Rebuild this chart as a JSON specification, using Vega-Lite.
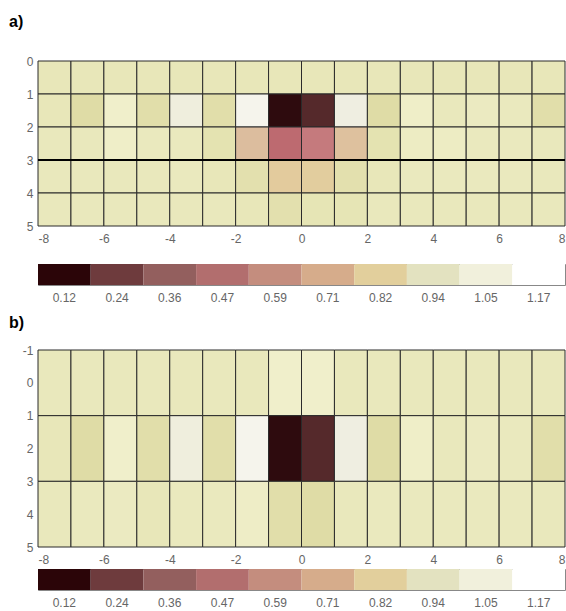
{
"$schema": "https://vega.github.io/schema/vega-lite/v6.json",
"background": "white",
"padding": {"left": 9, "top": 14, "right": 0, "bottom": 0},
"config": {
  "view": {"stroke": null},
  "axis": {"domain": false, "ticks": false, "grid": false, "labelColor": "#666666", "labelFont": "Liberation Sans", "labelFontSize": 12, "labelPadding": 6, "labelOverlap": false, "title": null},
  "title": {"font": "Liberation Sans", "fontSize": 16, "fontWeight": "bold", "color": "#000000", "anchor": "start", "frame": "group"}
},
"datasets": {
  "bar": [{"v":0.12},{"v":0.24},{"v":0.36},{"v":0.47},{"v":0.59},{"v":0.71},{"v":0.82},{"v":0.94},{"v":1.05},{"v":1.17}],
  "a": [
{"x0":-8,"x1":-7,"y0":0,"y1":1,"v":0.90},{"x0":-7,"x1":-6,"y0":0,"y1":1,"v":0.90},{"x0":-6,"x1":-5,"y0":0,"y1":1,"v":0.90},{"x0":-5,"x1":-4,"y0":0,"y1":1,"v":0.90},
{"x0":-4,"x1":-3,"y0":0,"y1":1,"v":0.90},{"x0":-3,"x1":-2,"y0":0,"y1":1,"v":0.90},{"x0":-2,"x1":-1,"y0":0,"y1":1,"v":0.90},{"x0":-1,"x1":0,"y0":0,"y1":1,"v":0.90},
{"x0":0,"x1":1,"y0":0,"y1":1,"v":0.90},{"x0":1,"x1":2,"y0":0,"y1":1,"v":0.90},{"x0":2,"x1":3,"y0":0,"y1":1,"v":0.90},{"x0":3,"x1":4,"y0":0,"y1":1,"v":0.90},
{"x0":4,"x1":5,"y0":0,"y1":1,"v":0.90},{"x0":5,"x1":6,"y0":0,"y1":1,"v":0.90},{"x0":6,"x1":7,"y0":0,"y1":1,"v":0.90},{"x0":7,"x1":8,"y0":0,"y1":1,"v":0.90},
{"x0":-8,"x1":-7,"y0":1,"y1":2,"v":0.90},{"x0":-7,"x1":-6,"y0":1,"y1":2,"v":0.85},{"x0":-6,"x1":-5,"y0":1,"y1":2,"v":0.97},{"x0":-5,"x1":-4,"y0":1,"y1":2,"v":0.86},
{"x0":-4,"x1":-3,"y0":1,"y1":2,"v":1.06},{"x0":-3,"x1":-2,"y0":1,"y1":2,"v":0.86},{"x0":-2,"x1":-1,"y0":1,"y1":2,"v":1.13},{"x0":-1,"x1":0,"y0":1,"y1":2,"v":0.12},
{"x0":0,"x1":1,"y0":1,"y1":2,"v":0.22},{"x0":1,"x1":2,"y0":1,"y1":2,"v":1.08},{"x0":2,"x1":3,"y0":1,"y1":2,"v":0.85},{"x0":3,"x1":4,"y0":1,"y1":2,"v":0.96},
{"x0":4,"x1":5,"y0":1,"y1":2,"v":0.91},{"x0":5,"x1":6,"y0":1,"y1":2,"v":0.93},{"x0":6,"x1":7,"y0":1,"y1":2,"v":0.92},{"x0":7,"x1":8,"y0":1,"y1":2,"v":0.86},
{"x0":-8,"x1":-7,"y0":2,"y1":3,"v":0.91},{"x0":-7,"x1":-6,"y0":2,"y1":3,"v":0.91},{"x0":-6,"x1":-5,"y0":2,"y1":3,"v":0.96},{"x0":-5,"x1":-4,"y0":2,"y1":3,"v":0.92},
{"x0":-4,"x1":-3,"y0":2,"y1":3,"v":0.92},{"x0":-3,"x1":-2,"y0":2,"y1":3,"v":0.88},{"x0":-2,"x1":-1,"y0":2,"y1":3,"v":0.70},{"x0":-1,"x1":0,"y0":2,"y1":3,"v":0.47},
{"x0":0,"x1":1,"y0":2,"y1":3,"v":0.50},{"x0":1,"x1":2,"y0":2,"y1":3,"v":0.72},{"x0":2,"x1":3,"y0":2,"y1":3,"v":0.88},{"x0":3,"x1":4,"y0":2,"y1":3,"v":0.94},
{"x0":4,"x1":5,"y0":2,"y1":3,"v":0.94},{"x0":5,"x1":6,"y0":2,"y1":3,"v":0.92},{"x0":6,"x1":7,"y0":2,"y1":3,"v":0.92},{"x0":7,"x1":8,"y0":2,"y1":3,"v":0.91},
{"x0":-8,"x1":-7,"y0":3,"y1":4,"v":0.91},{"x0":-7,"x1":-6,"y0":3,"y1":4,"v":0.91},{"x0":-6,"x1":-5,"y0":3,"y1":4,"v":0.91},{"x0":-5,"x1":-4,"y0":3,"y1":4,"v":0.91},
{"x0":-4,"x1":-3,"y0":3,"y1":4,"v":0.92},{"x0":-3,"x1":-2,"y0":3,"y1":4,"v":0.90},{"x0":-2,"x1":-1,"y0":3,"y1":4,"v":0.87},{"x0":-1,"x1":0,"y0":3,"y1":4,"v":0.78},
{"x0":0,"x1":1,"y0":3,"y1":4,"v":0.79},{"x0":1,"x1":2,"y0":3,"y1":4,"v":0.87},{"x0":2,"x1":3,"y0":3,"y1":4,"v":0.90},{"x0":3,"x1":4,"y0":3,"y1":4,"v":0.92},
{"x0":4,"x1":5,"y0":3,"y1":4,"v":0.92},{"x0":5,"x1":6,"y0":3,"y1":4,"v":0.92},{"x0":6,"x1":7,"y0":3,"y1":4,"v":0.92},{"x0":7,"x1":8,"y0":3,"y1":4,"v":0.91},
{"x0":-8,"x1":-7,"y0":4,"y1":5,"v":0.91},{"x0":-7,"x1":-6,"y0":4,"y1":5,"v":0.91},{"x0":-6,"x1":-5,"y0":4,"y1":5,"v":0.91},{"x0":-5,"x1":-4,"y0":4,"y1":5,"v":0.91},
{"x0":-4,"x1":-3,"y0":4,"y1":5,"v":0.91},{"x0":-3,"x1":-2,"y0":4,"y1":5,"v":0.91},{"x0":-2,"x1":-1,"y0":4,"y1":5,"v":0.90},{"x0":-1,"x1":0,"y0":4,"y1":5,"v":0.87},
{"x0":0,"x1":1,"y0":4,"y1":5,"v":0.89},{"x0":1,"x1":2,"y0":4,"y1":5,"v":0.89},{"x0":2,"x1":3,"y0":4,"y1":5,"v":0.91},{"x0":3,"x1":4,"y0":4,"y1":5,"v":0.91},
{"x0":4,"x1":5,"y0":4,"y1":5,"v":0.91},{"x0":5,"x1":6,"y0":4,"y1":5,"v":0.91},{"x0":6,"x1":7,"y0":4,"y1":5,"v":0.91},{"x0":7,"x1":8,"y0":4,"y1":5,"v":0.91}
  ],
  "b": [
{"x0":-8,"x1":-7,"y0":-1,"y1":1,"v":0.91},{"x0":-7,"x1":-6,"y0":-1,"y1":1,"v":0.91},{"x0":-6,"x1":-5,"y0":-1,"y1":1,"v":0.91},{"x0":-5,"x1":-4,"y0":-1,"y1":1,"v":0.91},
{"x0":-4,"x1":-3,"y0":-1,"y1":1,"v":0.91},{"x0":-3,"x1":-2,"y0":-1,"y1":1,"v":0.91},{"x0":-2,"x1":-1,"y0":-1,"y1":1,"v":0.91},{"x0":-1,"x1":0,"y0":-1,"y1":1,"v":0.97},
{"x0":0,"x1":1,"y0":-1,"y1":1,"v":0.97},{"x0":1,"x1":2,"y0":-1,"y1":1,"v":0.91},{"x0":2,"x1":3,"y0":-1,"y1":1,"v":0.91},{"x0":3,"x1":4,"y0":-1,"y1":1,"v":0.91},
{"x0":4,"x1":5,"y0":-1,"y1":1,"v":0.91},{"x0":5,"x1":6,"y0":-1,"y1":1,"v":0.91},{"x0":6,"x1":7,"y0":-1,"y1":1,"v":0.91},{"x0":7,"x1":8,"y0":-1,"y1":1,"v":0.91},
{"x0":-8,"x1":-7,"y0":1,"y1":3,"v":0.90},{"x0":-7,"x1":-6,"y0":1,"y1":3,"v":0.85},{"x0":-6,"x1":-5,"y0":1,"y1":3,"v":0.97},{"x0":-5,"x1":-4,"y0":1,"y1":3,"v":0.86},
{"x0":-4,"x1":-3,"y0":1,"y1":3,"v":1.06},{"x0":-3,"x1":-2,"y0":1,"y1":3,"v":0.86},{"x0":-2,"x1":-1,"y0":1,"y1":3,"v":1.13},{"x0":-1,"x1":0,"y0":1,"y1":3,"v":0.12},
{"x0":0,"x1":1,"y0":1,"y1":3,"v":0.22},{"x0":1,"x1":2,"y0":1,"y1":3,"v":1.08},{"x0":2,"x1":3,"y0":1,"y1":3,"v":0.85},{"x0":3,"x1":4,"y0":1,"y1":3,"v":0.96},
{"x0":4,"x1":5,"y0":1,"y1":3,"v":0.91},{"x0":5,"x1":6,"y0":1,"y1":3,"v":0.93},{"x0":6,"x1":7,"y0":1,"y1":3,"v":0.92},{"x0":7,"x1":8,"y0":1,"y1":3,"v":0.86},
{"x0":-8,"x1":-7,"y0":3,"y1":5,"v":0.91},{"x0":-7,"x1":-6,"y0":3,"y1":5,"v":0.92},{"x0":-6,"x1":-5,"y0":3,"y1":5,"v":0.93},{"x0":-5,"x1":-4,"y0":3,"y1":5,"v":0.90},
{"x0":-4,"x1":-3,"y0":3,"y1":5,"v":0.92},{"x0":-3,"x1":-2,"y0":3,"y1":5,"v":0.92},{"x0":-2,"x1":-1,"y0":3,"y1":5,"v":0.95},{"x0":-1,"x1":0,"y0":3,"y1":5,"v":0.86},
{"x0":0,"x1":1,"y0":3,"y1":5,"v":0.85},{"x0":1,"x1":2,"y0":3,"y1":5,"v":0.91},{"x0":2,"x1":3,"y0":3,"y1":5,"v":0.92},{"x0":3,"x1":4,"y0":3,"y1":5,"v":0.92},
{"x0":4,"x1":5,"y0":3,"y1":5,"v":0.92},{"x0":5,"x1":6,"y0":3,"y1":5,"v":0.92},{"x0":6,"x1":7,"y0":3,"y1":5,"v":0.92},{"x0":7,"x1":8,"y0":3,"y1":5,"v":0.91}
  ],
  "line": [{"y":3}]
},
"spacing": 11,
"resolve": {"scale": {"color": "independent", "x": "independent", "y": "independent"}},
"vconcat": [
  {
    "bounds": "flush",
    "spacing": 38,
    "resolve": {"scale": {"color": "independent", "x": "independent", "y": "independent"}},
    "vconcat": [
      {
        "width": 527, "height": 165,
        "title": {"text": "a)", "dx": -29, "offset": 25},
        "layer": [
          {
            "data": {"name": "a"},
            "mark": {"type": "rect", "stroke": "#2b2b2b", "strokeWidth": 1},
            "encoding": {
              "x": {"field": "x0", "type": "quantitative", "scale": {"domain": [-8, 8], "nice": false, "zero": false}, "axis": {"values": [-8, -6, -4, -2, 0, 2, 4, 6, 8], "labelPadding": 7, "labelExpr": "toString(datum.value)"}},
              "x2": {"field": "x1"},
              "y": {"field": "y0", "type": "quantitative", "scale": {"domain": [0, 5], "nice": false, "zero": false, "reverse": true}, "axis": {"values": [0, 1, 2, 3, 4, 5], "labelPadding": 5, "labelOverlap": false, "labelExpr": "toString(datum.value)"}},
              "y2": {"field": "y1"},
              "color": {"field": "v", "type": "quantitative", "legend": null, "scale": {"interpolate": "rgb", "domain": [0.12, 0.22, 0.47, 0.5, 0.7, 0.78, 0.85, 0.9, 0.97, 1.08, 1.15], "range": ["#2e0b0e", "#55292b", "#bd6a70", "#c57a7d", "#dcbd9e", "#e3cb9d", "#dfdca6", "#e8e7b9", "#f0efcb", "#efeee1", "#f7f6f1"]}}
            }
          },
          {
            "data": {"name": "line"},
            "mark": {"type": "rule", "color": "#000000", "strokeWidth": 2},
            "encoding": {"y": {"field": "y", "type": "quantitative", "axis": {"values": [0, 1, 2, 3, 4, 5], "labelPadding": 5, "labelOverlap": false, "labelExpr": "toString(datum.value)"}}}
          }
        ]
      },
      {
        "width": 527, "height": 21,
        "view": {"stroke": "#888888", "strokeWidth": 1},
        "data": {"name": "bar"},
        "mark": {"type": "rect"},
        "encoding": {
          "x": {"field": "v", "type": "ordinal", "scale": {"paddingInner": 0, "paddingOuter": 0}, "axis": {"labelAngle": 0, "labelPadding": 7}},
          "color": {"field": "v", "type": "quantitative", "legend": null, "scale": {"interpolate": "rgb", "domain": [0.12, 0.24, 0.36, 0.47, 0.59, 0.71, 0.82, 0.94, 1.05, 1.17], "range": ["#2b0508", "#6e3b3d", "#935f5e", "#b26e6e", "#c48d7e", "#d6ac8b", "#e2cf9c", "#e3e2c0", "#f1f0dc", "#ffffff"]}}
        }
      }
    ]
  },
  {
    "bounds": "flush",
    "spacing": 22,
    "resolve": {"scale": {"color": "independent", "x": "independent", "y": "independent"}},
    "vconcat": [
      {
        "width": 527, "height": 197,
        "title": {"text": "b)", "dx": -29, "offset": 13},
        "data": {"name": "b"},
        "mark": {"type": "rect", "stroke": "#2b2b2b", "strokeWidth": 1},
        "encoding": {
          "x": {"field": "x0", "type": "quantitative", "scale": {"domain": [-8, 8], "nice": false, "zero": false}, "axis": {"values": [-8, -6, -4, -2, 0, 2, 4, 6, 8], "labelPadding": 7, "labelExpr": "toString(datum.value)"}},
          "x2": {"field": "x1"},
          "y": {"field": "y0", "type": "quantitative", "scale": {"domain": [-1, 5], "nice": false, "zero": false, "reverse": true}, "axis": {"values": [-1, 0, 1, 2, 3, 4, 5], "labelPadding": 5, "labelExpr": "toString(datum.value)"}},
          "y2": {"field": "y1"},
          "color": {"field": "v", "type": "quantitative", "legend": null, "scale": {"interpolate": "rgb", "domain": [0.12, 0.22, 0.47, 0.5, 0.7, 0.78, 0.85, 0.9, 0.97, 1.08, 1.15], "range": ["#2e0b0e", "#55292b", "#bd6a70", "#c57a7d", "#dcbd9e", "#e3cb9d", "#dfdca6", "#e8e7b9", "#f0efcb", "#efeee1", "#f7f6f1"]}}
        }
      },
      {
        "width": 527, "height": 21,
        "view": {"stroke": "#888888", "strokeWidth": 1},
        "data": {"name": "bar"},
        "mark": {"type": "rect"},
        "encoding": {
          "x": {"field": "v", "type": "ordinal", "scale": {"paddingInner": 0, "paddingOuter": 0}, "axis": {"labelAngle": 0, "labelPadding": 7}},
          "color": {"field": "v", "type": "quantitative", "legend": null, "scale": {"interpolate": "rgb", "domain": [0.12, 0.24, 0.36, 0.47, 0.59, 0.71, 0.82, 0.94, 1.05, 1.17], "range": ["#2b0508", "#6e3b3d", "#935f5e", "#b26e6e", "#c48d7e", "#d6ac8b", "#e2cf9c", "#e3e2c0", "#f1f0dc", "#ffffff"]}}
        }
      }
    ]
  }
]
}
